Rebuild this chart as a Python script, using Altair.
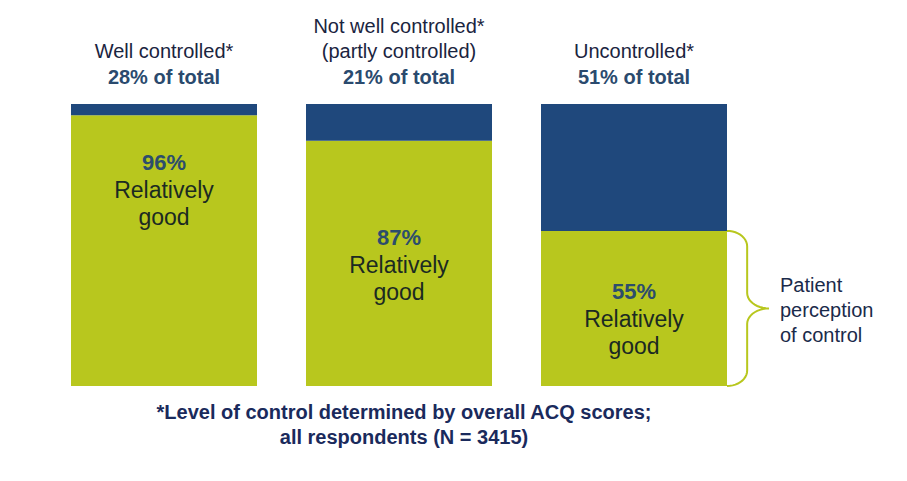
import altair as alt
import numpy as np
import pandas as pd

# ---------------- data ----------------
categories = ["Well controlled", "Not well controlled", "Uncontrolled"]
header_top = ["", "Not well controlled*", ""]
header_mid = ["Well controlled*", "(partly controlled)", "Uncontrolled*"]
share_of_total = [28, 21, 51]          # % of all respondents
relatively_good = [96, 87, 55]         # % rating control as relatively good
label_anchor = [79, 52.5, 33.3]        # vertical placement of in-bar labels (% units)
footnote = ["*Level of control determined by overall ACQ scores;",
            "all respondents (N = 3415)"]
brace_label = "Patient\nperception\nof control"

GREEN = "#B8C71E"
BLUE = "#1F487C"
FONT = "Liberation Sans"

# ---------------- tables ----------------
bars = pd.DataFrame({
    "cat": categories * 2,
    "seg": ["good"] * 3 + ["rest"] * 3,
    "y0": [0] * 3 + relatively_good,
    "y1": relatively_good + [100] * 3,
})
labels = pd.DataFrame({
    "cat": categories,
    "pct": [f"{v}%" for v in relatively_good],
    "anchor": label_anchor,
    "top": header_top,
    "mid": header_mid,
    "share": [f"{v}% of total" for v in share_of_total],
})

# curly brace shape (normalised), spanning the green part of the last bar
def arc(cx, cy, rx, ry, a0, a1, n=12):
    t = np.radians(np.linspace(a0, a1, n))
    return list(zip(cx + rx * np.cos(t), cy + ry * np.sin(t)))

s = 0.48
pts = (arc(0, 0.90, s, 0.10, 90, 0) +
       arc(1, 0.60, 1 - s, 0.10, 180, 270) +
       arc(1, 0.40, 1 - s, 0.10, 90, 180) +
       arc(0, 0.10, s, 0.10, 0, -90))
brace = pd.DataFrame(pts, columns=["bx", "frac"])
brace["by"] = brace["frac"] * relatively_good[-1]
brace["i"] = range(len(brace))

# ---------------- encodings ----------------
X0, X1, BW = 63, 719, 186   # band range and bar width (px)

def x_band():
    return alt.X("cat:N", sort=categories,
                 scale=alt.Scale(type="band", range=[X0, X1],
                                 paddingInner=1 - BW / ((X1 - X0 - BW) / 2), paddingOuter=0),
                 axis=None)

def x_center():
    return alt.X("cat:N", sort=categories,
                 scale=alt.Scale(type="point", range=[X0 + BW / 2, X1 - BW / 2], padding=0),
                 axis=None)

y_scale = alt.Scale(domain=[0, 100], range=[378, 96], nice=False, zero=False)

bar_layer = alt.Chart(bars).mark_bar(size=BW).encode(
    x=x_band(),
    y=alt.Y("y0:Q", scale=y_scale, axis=None),
    y2="y1:Q",
    color=alt.Color("seg:N", scale=alt.Scale(domain=["good", "rest"], range=[GREEN, BLUE]),
                    legend=None),
)

base_lbl = alt.Chart(labels)
pct_layer = base_lbl.mark_text(font=FONT, fontSize=22, fontWeight="bold",
                               color="#2C4D6C", baseline="middle").encode(
    x=x_center(), y=alt.Y("anchor:Q", axis=None), text="pct:N")
rel_layer = base_lbl.mark_text(font=FONT, fontSize=23, color="#1B2A22",
                               baseline="middle", dy=28).encode(
    x=x_center(), y=alt.Y("anchor:Q", axis=None), text=alt.value("Relatively"))
good_layer = base_lbl.mark_text(font=FONT, fontSize=23, color="#1B2A22",
                                baseline="middle", dy=55).encode(
    x=x_center(), y=alt.Y("anchor:Q", axis=None), text=alt.value("good"))

top_layer = base_lbl.mark_text(font=FONT, fontSize=20, color="#1A2440",
                               baseline="middle").encode(
    x=x_center(), y=alt.value(19), text="top:N")
mid_layer = base_lbl.mark_text(font=FONT, fontSize=20, color="#1A2440",
                               baseline="middle").encode(
    x=x_center(), y=alt.value(44), text="mid:N")
share_layer = base_lbl.mark_text(font=FONT, fontSize=20, fontWeight="bold",
                                 color="#2A4A6E", baseline="middle").encode(
    x=x_center(), y=alt.value(70), text="share:N")

brace_layer = alt.Chart(brace).mark_line(color=GREEN, strokeWidth=2).encode(
    x=alt.X("bx:Q", scale=alt.Scale(domain=[0, 1], range=[X1, X1 + 42], nice=False, zero=False),
            axis=None),
    y=alt.Y("by:Q", axis=None),
    order="i:Q",
)

brace_text = alt.Chart(pd.DataFrame({"t": [brace_label]})).mark_text(
    font=FONT, fontSize=20, color="#1A2A4A", align="left", baseline="middle",
    lineBreak="\n", lineHeight=25).encode(
    x=alt.value(772), y=alt.value(278), text="t:N")

foot_df = pd.DataFrame({"t": footnote, "line": [0, 1]})
foot1 = alt.Chart(foot_df).transform_filter("datum.line == 0").mark_text(
    font=FONT, fontSize=20, fontWeight="bold", color="#1A2A5C", baseline="middle").encode(
    x=alt.value(396), y=alt.value(405), text="t:N")
foot2 = alt.Chart(foot_df).transform_filter("datum.line == 1").mark_text(
    font=FONT, fontSize=20, fontWeight="bold", color="#1A2A5C", baseline="middle").encode(
    x=alt.value(396), y=alt.value(430), text="t:N")

chart = alt.layer(
    bar_layer, pct_layer, rel_layer, good_layer,
    top_layer, mid_layer, share_layer,
    brace_layer, brace_text, foot1, foot2,
).resolve_scale(x="independent").properties(
    width=891, height=465, padding=0, autosize=alt.AutoSizeParams(type="none"),
    background="white",
).configure_view(stroke=None)

chart.save("out.html", embed_options={"renderer": "svg", "actions": False})
